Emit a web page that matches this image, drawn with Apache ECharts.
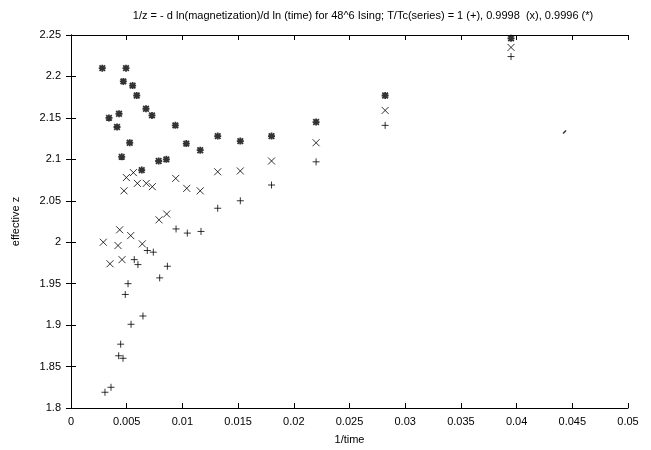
<!DOCTYPE html>
<html>
<head>
<meta charset="utf-8">
<script src="https://cdn.jsdelivr.net/npm/echarts@6/dist/echarts.min.js"></script>
<style>
  html, body { margin: 0; padding: 0; background: #fff; }
  #chartmain { width: 651px; height: 450px; }
</style>
</head>
<body>
<div id="chartmain"></div>
<script>
// T/Tc = 1 (+)
var plusX = [0.00305, 0.00359, 0.00428, 0.00446, 0.00467, 0.00487, 0.00512, 0.00539, 0.00568, 0.00601,
  0.00646, 0.00685, 0.00739, 0.00796, 0.00865, 0.00943, 0.01044, 0.01167, 0.01317, 0.0152,
  0.018, 0.022, 0.0282, 0.0395];
var plusY = [1.819, 1.825, 1.863, 1.877, 1.860, 1.937, 1.950, 1.901, 1.979, 1.973,
  1.911, 1.990, 1.988, 1.957, 1.971, 2.016, 2.011, 2.013, 2.041, 2.050,
  2.069, 2.097, 2.141, 2.224];
// T/Tc = 0.9998 (x)
var crossX = [0.0029, 0.0035, 0.00422, 0.00437, 0.00458, 0.00476, 0.00497, 0.00536, 0.0056, 0.00596,
  0.0064, 0.00676, 0.0073, 0.0079, 0.00859, 0.0094, 0.01039, 0.0116, 0.01317, 0.0152,
  0.018, 0.022, 0.0282, 0.0395];
var crossY = [2.000, 1.974, 1.996, 2.015, 1.979, 2.062, 2.078, 2.008, 2.084, 2.071,
  1.998, 2.071, 2.067, 2.027, 2.034, 2.077, 2.065, 2.062, 2.085, 2.086,
  2.098, 2.120, 2.159, 2.235];
// T/Tc = 0.9996 (*)
var starX = [0.00281, 0.00341, 0.00413, 0.00431, 0.00455, 0.0047, 0.00494, 0.00527, 0.00553, 0.0059,
  0.00635, 0.00673, 0.00727, 0.00787, 0.00856, 0.00937, 0.01035, 0.0116, 0.01317, 0.0152,
  0.018, 0.022, 0.0282, 0.0395];
var starY = [2.210, 2.150, 2.139, 2.155, 2.103, 2.194, 2.210, 2.120, 2.189, 2.177,
  2.087, 2.161, 2.153, 2.098, 2.100, 2.141, 2.119, 2.111, 2.128, 2.122,
  2.128, 2.145, 2.177, 2.246];
// stray dot on the scan
var dotX = [0.0443];
var dotY = [2.133];

var xTicks = [0, 0.005, 0.01, 0.015, 0.02, 0.025, 0.03, 0.035, 0.04, 0.045, 0.05];
var yTicks = [1.8, 1.85, 1.9, 1.95, 2, 2.05, 2.1, 2.15, 2.2, 2.25];

function pairs(xs, ys) {
  var out = [];
  for (var i = 0; i < xs.length; i++) out.push([xs[i], ys[i]]);
  return out;
}
function fmt(v) { return String(parseFloat(v.toFixed(3))); }

var font = 'Liberation Sans';
var tickStyle = { inside: true, length: 5, lineStyle: { color: '#000' } };

option = {
  backgroundColor: '#fff',
  animation: false,
  title: {
    text: '1/z = - d ln(magnetization)/d ln (time) for 48^6 Ising; T/Tc(series) = 1 (+), 0.9998  (x), 0.9996 (*)',
    left: 358, top: 5, textAlign: 'center',
    textStyle: { fontFamily: font, fontSize: 11, fontWeight: 'normal', color: '#000' }
  },
  grid: { left: 71, right: 23, top: 35, bottom: 40 },
  xAxis: [{
    type: 'value', min: xTicks[0], max: xTicks[xTicks.length - 1], interval: 0.005,
    name: '1/time', nameLocation: 'middle', nameGap: 26,
    nameTextStyle: { fontFamily: font, fontSize: 11, color: '#000' },
    axisLine: { lineStyle: { color: '#000', width: 1 } },
    axisTick: tickStyle, splitLine: { show: false },
    axisLabel: { fontFamily: font, fontSize: 11, color: '#000', margin: 8, formatter: fmt }
  }, {
    type: 'value', position: 'top', min: xTicks[0], max: xTicks[xTicks.length - 1], interval: 0.005,
    axisLine: { show: true, lineStyle: { color: '#000', width: 1 } },
    axisTick: tickStyle, axisLabel: { show: false }, splitLine: { show: false }
  }],
  yAxis: [{
    type: 'value', min: yTicks[0], max: yTicks[yTicks.length - 1], interval: 0.05,
    name: 'effective z', nameLocation: 'middle', nameGap: 50, nameRotate: 90,
    nameTextStyle: { fontFamily: font, fontSize: 11, color: '#000' },
    axisLine: { show: true, lineStyle: { color: '#000', width: 1 } },
    axisTick: tickStyle, splitLine: { show: false },
    axisLabel: { fontFamily: font, fontSize: 11, color: '#000', margin: 10, formatter: fmt }
  }, {
    type: 'value', position: 'right', min: yTicks[0], max: yTicks[yTicks.length - 1], interval: 0.05,
    axisLine: { show: true, lineStyle: { color: '#000', width: 1 } },
    axisTick: tickStyle, axisLabel: { show: false }, splitLine: { show: false }
  }],
  series: [{
    name: '1', type: 'scatter', data: pairs(plusX, plusY),
    symbol: 'path://M0,-1L0,1M-1,0L1,0', symbolSize: 7,
    itemStyle: { color: 'transparent', borderColor: '#000', borderWidth: 1 }
  }, {
    name: '0.9998', type: 'scatter', data: pairs(crossX, crossY),
    symbol: 'path://M-1,-1L1,1M-1,1L1,-1', symbolSize: 7,
    itemStyle: { color: 'transparent', borderColor: '#000', borderWidth: 1 }
  }, {
    name: '0.9996', type: 'scatter', data: pairs(starX, starY),
    symbol: 'path://M0,-1L0,1M-1,0L1,0M-0.8,-0.8L0.8,0.8M-0.8,0.8L0.8,-0.8', symbolSize: 7,
    itemStyle: { color: 'transparent', borderColor: '#000', borderWidth: 1.8 }
  }, {
    name: 'dot', type: 'scatter', data: pairs(dotX, dotY),
    symbol: 'path://M-1,1L1,-1', symbolSize: 3,
    itemStyle: { color: 'transparent', borderColor: '#000', borderWidth: 1.5 }
  }]
};

var myChart = echarts.init(document.getElementById('chartmain'));
myChart.setOption(option);
</script>
</body>
</html>
